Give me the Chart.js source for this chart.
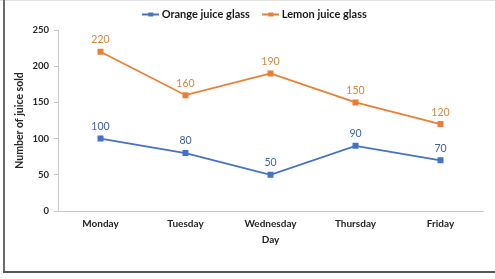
<!DOCTYPE html>
<html>
<head>
<meta charset="utf-8">
<script src="https://cdn.jsdelivr.net/npm/chart.js@4.4.1/dist/chart.umd.min.js"></script>
<style>
  body { margin: 0; background: #fff; }
  #wrap { position: relative; width: 495px; height: 279px; }
  #lineTop { position: absolute; left: 0; top: 0; width: 495px; height: 1px; background: #e2e2e2; }
  #lineLeft { position: absolute; left: 3px; top: 0; width: 2px; height: 273px; background: #6b6b6b; }
  #lineBottom { position: absolute; left: 3px; top: 271px; width: 492px; height: 2px; background: #555; }
  canvas { position: absolute; left: 0; top: 0; }
</style>
</head>
<body>
<div id="wrap">
  <canvas id="grafico" width="495" height="279"></canvas>
  <div id="lineTop"></div>
  <div id="lineLeft"></div>
  <div id="lineBottom"></div>
</div>
<script>
const dias = ["Monday", "Tuesday", "Wednesday", "Thursday", "Friday"];
const naranja = [100, 80, 50, 90, 70];
const limon = [220, 160, 190, 150, 120];
const ticksY = [0, 50, 100, 150, 200, 250];

const azul = "#4472C4";
const nar = "#ED7D31";
const fuente = "Lato, 'Open Sans', sans-serif";

// legend icon: line with small square marker
function icono(color) {
  const c = document.createElement("canvas");
  c.width = 17; c.height = 6;
  const g = c.getContext("2d");
  g.strokeStyle = color;
  g.lineWidth = 2;
  g.beginPath(); g.moveTo(0, 3); g.lineTo(17, 3); g.stroke();
  g.fillStyle = color;
  g.fillRect(6, 1, 5, 4);
  return c;
}

// value labels above each point
const etiquetas = {
  id: "etiquetas",
  afterDatasetsDraw(chart) {
    const ctx = chart.ctx;
    ctx.save();
    ctx.font = "10.5px " + fuente;
    ctx.textAlign = "center";
    ctx.textBaseline = "middle";
    chart.data.datasets.forEach((ds, i) => {
      const meta = chart.getDatasetMeta(i);
      meta.data.forEach((p, j) => {
        ctx.fillStyle = ds.labelColor;
        ctx.fillText(ds.data[j], p.x, p.y - 12);
      });
    });
    ctx.restore();
  }
};

const moverLeyenda = {
  id: "moverLeyenda",
  afterLayout(chart) {
    chart.legend.left += 12;
    chart.legend.right += 12;
  }
};

const ctx = document.getElementById("grafico").getContext("2d");
const grafico = new Chart(ctx, {
  type: "line",
  data: {
    labels: dias,
    datasets: [{
      label: "Orange juice glass",
      data: naranja,
      borderColor: azul,
      backgroundColor: azul,
      labelColor: "#3E5F9E",
      borderWidth: 1.75,
      pointStyle: "rect",
      pointRadius: 3,
      tension: 0
    }, {
      label: "Lemon juice glass",
      data: limon,
      borderColor: nar,
      backgroundColor: nar,
      labelColor: "#D7863F",
      borderWidth: 1.75,
      pointStyle: "rect",
      pointRadius: 3,
      tension: 0
    }]
  },
  options: {
    responsive: false,
    animation: false,
    layout: { padding: { left: 5, right: 12, top: 7, bottom: 31 } },
    plugins: {
      legend: {
        position: "top",
        labels: {
          usePointStyle: true,
          pointStyle: "line",
          boxWidth: 17,
          padding: 2,
          color: "#1a1a1a",
          font: { family: fuente, size: 11, weight: "bold" },
          generateLabels(chart) {
            return chart.data.datasets.map((ds, i) => ({
              // extra spaces after the first entry give the gap between items
              text: i === 0 ? ds.label + "     " : ds.label,
              pointStyle: icono(ds.borderColor),
              fontColor: "#1a1a1a",
              datasetIndex: i,
              lineWidth: 0,
              strokeStyle: "transparent",
              fillStyle: "transparent"
            }));
          }
        }
      },
      tooltip: { enabled: false }
    },
    scales: {
      x: {
        offset: true,
        grid: { display: false, drawTicks: false },
        border: { color: "#c8c8c8", width: 1 },
        ticks: {
          padding: 7,
          color: "#262626",
          font: { family: fuente, size: 10, weight: "bold" }
        },
        title: {
          display: true,
          text: "Day",
          color: "#262626",
          padding: { top: 0, bottom: 2 },
          font: { family: fuente, size: 10, weight: "bold" }
        },
        afterFit(s) { s.height = 37; }
      },
      y: {
        min: 0,
        max: 250,
        afterBuildTicks(s) { s.ticks = ticksY.map(v => ({ value: v })); },
        grid: { drawOnChartArea: false, tickLength: 4, color: "#c8c8c8" },
        border: { color: "#c8c8c8", width: 1 },
        ticks: {
          padding: 5,
          color: "#262626",
          font: { family: fuente, size: 9.5, weight: "bold" }
        },
        title: {
          display: true,
          text: "Number of juice sold",
          color: "#262626",
          padding: { top: 8, bottom: 0 },
          font: { family: fuente, size: 10.5, weight: "bold" }
        },
        afterFit(s) { s.width = 53; }
      }
    }
  },
  plugins: [etiquetas, moverLeyenda]
});
</script>
</body>
</html>
